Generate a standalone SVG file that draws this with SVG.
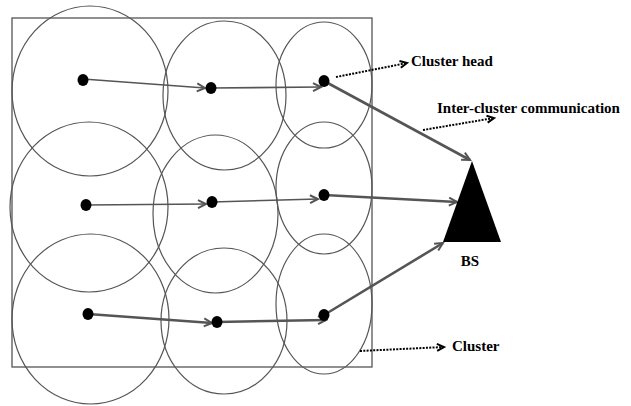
<svg xmlns="http://www.w3.org/2000/svg" width="631" height="406" viewBox="0 0 631 406">
<style>
.cl{fill:none;stroke:#555;stroke-width:1.2}
.dot{fill:#000}
.thin{stroke:#555;stroke-width:1.6;fill:none}
.thick{stroke:#555;stroke-width:2.6;fill:none}
.dash{stroke:#000;stroke-width:2;stroke-dasharray:2 1.3;fill:none}
.lbl{font-family:"Liberation Serif","Times New Roman",serif;font-weight:bold;font-size:15px;fill:#000}
</style>
<defs>
<marker id="ah" markerUnits="userSpaceOnUse" markerWidth="12" markerHeight="12" refX="9" refY="5" orient="auto" viewBox="0 0 12 10">
<path d="M1,1 L9,5 L1,9" fill="none" stroke="#555" stroke-width="2"/>
</marker>
<marker id="dh" markerUnits="userSpaceOnUse" markerWidth="12" markerHeight="12" refX="8" refY="5" orient="auto" viewBox="0 0 12 10">
<path d="M1,1.5 L8,5 L1,8.5" fill="none" stroke="#000" stroke-width="2"/>
</marker>
</defs>
<rect x="12" y="18" width="360" height="349" fill="none" stroke="#555" stroke-width="1.3"/>
<g id="clusters">
<ellipse class="cl" cx="90" cy="91" rx="78" ry="85"/>
<ellipse class="cl" cx="224.5" cy="95.5" rx="61.5" ry="74.5"/>
<ellipse class="cl" cx="324" cy="85" rx="48" ry="63"/>
<ellipse class="cl" cx="89" cy="207" rx="79" ry="85"/>
<ellipse class="cl" cx="215.5" cy="214" rx="62.5" ry="79"/>
<ellipse class="cl" cx="324" cy="188" rx="48" ry="66"/>
<ellipse class="cl" cx="90.5" cy="319" rx="78.5" ry="85"/>
<ellipse class="cl" cx="224" cy="321" rx="63" ry="73"/>
<ellipse class="cl" cx="324" cy="304" rx="48" ry="70"/>
</g>
<g id="connectors">
<line class="thin" x1="83" y1="79" x2="205" y2="88" marker-end="url(#ah)"/>
<line class="thin" x1="211" y1="88" x2="321" y2="87" marker-end="url(#ah)"/>
<line class="thick" x1="324" y1="81" x2="470" y2="160" marker-end="url(#ah)"/>
<line class="thin" x1="86" y1="205" x2="206" y2="204" marker-end="url(#ah)"/>
<line class="thin" x1="212" y1="202" x2="318" y2="199" marker-end="url(#ah)"/>
<line class="thick" x1="324" y1="195" x2="457" y2="202" marker-end="url(#ah)"/>
<line class="thick" x1="88" y1="314" x2="212" y2="323" marker-end="url(#ah)"/>
<line class="thick" x1="217" y1="322" x2="326" y2="320" marker-end="url(#ah)"/>
<line class="thick" x1="324" y1="315" x2="443" y2="243" marker-end="url(#ah)"/>
<line class="dash" x1="336" y1="77" x2="407" y2="63" marker-end="url(#dh)"/>
<line class="dash" x1="423" y1="130" x2="494" y2="118" marker-end="url(#dh)"/>
<line class="dash" x1="360" y1="351" x2="444" y2="347" marker-end="url(#dh)"/>
</g>
<g id="heads">
<ellipse class="dot" cx="83" cy="80" rx="5.5" ry="6"/>
<ellipse class="dot" cx="211" cy="88" rx="5.5" ry="6"/>
<ellipse class="dot" cx="324" cy="81" rx="5.5" ry="6"/>
<ellipse class="dot" cx="86" cy="205" rx="5.5" ry="6"/>
<ellipse class="dot" cx="212" cy="202" rx="5.5" ry="6"/>
<ellipse class="dot" cx="324" cy="195" rx="5.5" ry="6"/>
<ellipse class="dot" cx="88" cy="314" rx="5.5" ry="6"/>
<ellipse class="dot" cx="217" cy="322" rx="5.5" ry="6"/>
<ellipse class="dot" cx="324" cy="315" rx="5.5" ry="6"/>
</g>
<g id="bs">
<polygon points="472,161 443,242 501,242" fill="#000"/>
<text class="lbl" x="470" y="266" text-anchor="middle">BS</text>
</g>
<g id="labels">
<text class="lbl" x="411" y="66">Cluster head</text>
<text class="lbl" x="437" y="113">Inter-cluster communication</text>
<text class="lbl" x="452" y="351">Cluster</text>
</g>
</svg>
